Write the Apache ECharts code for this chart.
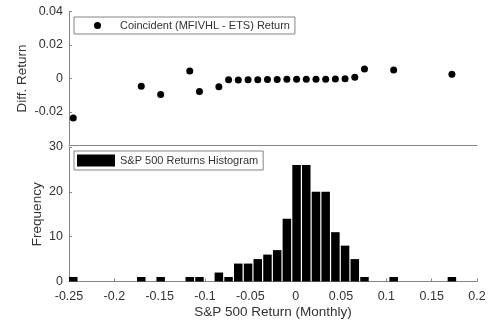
<!DOCTYPE html>
<html><head><meta charset="utf-8">
<script src="https://cdn.jsdelivr.net/npm/echarts@6/dist/echarts.min.js"></script>
<style>html,body{margin:0;padding:0;background:#fff}#c{width:489px;height:323px}</style>
</head><body><div id="c"></div>
<script>
// Histogram bin centers (S&P 500 monthly return) for non-empty bins
const binCenters = [-0.2453, -0.1703, -0.1489, -0.1168, -0.1061, -0.0847, -0.0740, -0.0633, -0.0525, -0.0418, -0.0311, -0.0204, -0.0097, 0.0010, 0.0117, 0.0224, 0.0331, 0.0438, 0.0545, 0.0652, 0.0759, 0.1081, 0.1723];
const binWidth = 0.0107;
// Histogram counts
const frequency = [1, 1, 1, 1, 1, 2, 1, 4, 4, 5, 6, 7, 14, 26, 26, 20, 20, 11, 8, 5, 1, 1, 1];
// Coincident (MFIVHL - ETS) difference return at each bin
const diffReturn = [-0.0236, -0.0046, -0.0095, 0.0045, -0.0078, -0.0049, -0.0008, -0.0009, -0.0007, -0.0007, -0.0006, -0.0006, -0.0005, -0.0005, -0.0005, -0.0005, -0.0004, -0.0003, -0.0002, 0.0007, 0.0057, 0.0051, 0.0026];
// Tick labels
const xTickLabels = ['-0.25', '-0.2', '-0.15', '-0.1', '-0.05', '0', '0.05', '0.1', '0.15', '0.2'];
const topYTickLabels = ['', '-0.02', '0', '0.02', '0.04'];
const bottomYTickLabels = ['0', '10', '20', '30'];

const FONT = '"Liberation Sans", Arial, sans-serif';
const TXT = '#333333';
const AX = '#858585';

const chart = echarts.init(document.getElementById('c'), null, {renderer: 'canvas'});
const scatterData = binCenters.map((x, i) => [x, diffReturn[i]]);
const histData = binCenters.map((x, i) => [x, frequency[i]]);

function idxLabel(arr, min, step) {
  return v => { const i = Math.round((v - min) / step); return arr[i] !== undefined ? arr[i] : ''; };
}

chart.setOption({
  animation: false,
  textStyle: {fontFamily: FONT},
  grid: [
    {left: 69, right: 12, top: 11.5, height: 134},
    {left: 69, right: 12, top: 147, height: 134.5}
  ],
  xAxis: [
    {gridIndex: 0, type: 'value', min: -0.25, max: 0.2, interval: 0.05,
     axisLine: {show: true, onZero: false, lineStyle: {color: AX, width: 1}},
     axisTick: {show: false}, axisLabel: {show: false}, splitLine: {show: false}},
    {gridIndex: 1, type: 'value', min: -0.25, max: 0.2, interval: 0.05,
     name: 'S&P 500 Return (Monthly)', nameLocation: 'middle', nameGap: 24, nameMoveOverlap: false,
     nameTextStyle: {fontSize: 13.5, color: TXT, fontFamily: FONT},
     axisLine: {show: true, onZero: false, lineStyle: {color: AX, width: 1}},
     axisTick: {show: true, inside: true, length: 3, lineStyle: {color: AX}},
     axisLabel: {fontSize: 12.5, color: TXT, margin: 9, fontFamily: FONT,
                 formatter: idxLabel(xTickLabels, -0.25, 0.05)},
     splitLine: {show: false}}
  ],
  yAxis: [
    {gridIndex: 0, type: 'value', min: -0.04, max: 0.04, interval: 0.02,
     name: 'Diff. Return', nameLocation: 'middle', nameGap: 39.5, nameMoveOverlap: false,
     nameTextStyle: {fontSize: 13.5, color: TXT, fontFamily: FONT},
     axisLine: {show: true, onZero: false, lineStyle: {color: AX, width: 1}},
     axisTick: {show: true, inside: true, length: 3, lineStyle: {color: AX}},
     axisLabel: {fontSize: 12.5, color: TXT, margin: 6, fontFamily: FONT,
                 formatter: idxLabel(topYTickLabels, -0.04, 0.02)},
     splitLine: {show: false}},
    {gridIndex: 1, type: 'value', min: 0, max: 30, interval: 10,
     name: 'Frequency', nameLocation: 'middle', nameGap: 24.5, nameMoveOverlap: false,
     nameTextStyle: {fontSize: 13.5, color: TXT, fontFamily: FONT},
     axisLine: {show: true, onZero: false, lineStyle: {color: AX, width: 1}},
     axisTick: {show: true, inside: true, length: 3, lineStyle: {color: AX}},
     axisLabel: {fontSize: 12.5, color: TXT, margin: 6, fontFamily: FONT,
                 formatter: idxLabel(bottomYTickLabels, 0, 10)},
     splitLine: {show: false}}
  ],
  legend: [
    {data: ['Coincident (MFIVHL - ETS) Return'], left: 74, top: 17, icon: 'circle',
     itemWidth: 7, itemHeight: 7, padding: [2, 5, 2, 20], borderColor: AX, borderWidth: 1,
     selectedMode: false,
     textStyle: {fontSize: 11, color: TXT, fontFamily: FONT, lineHeight: 13, padding: [0, 0, 0, 14]}},
    {data: ['S&P 500 Returns Histogram'], left: 74, top: 151, icon: 'rect',
     itemWidth: 38, itemHeight: 12, padding: [3, 5, 3, 3], borderColor: AX, borderWidth: 1,
     selectedMode: false,
     textStyle: {fontSize: 11, color: TXT, fontFamily: FONT, lineHeight: 13}}
  ],
  series: [
    {name: 'Coincident (MFIVHL - ETS) Return', type: 'scatter', xAxisIndex: 0, yAxisIndex: 0,
     symbol: 'circle', symbolSize: 7, itemStyle: {color: '#000', opacity: 1}, data: scatterData},
    {name: 'S&P 500 Returns Histogram', type: 'custom', xAxisIndex: 1, yAxisIndex: 1,
     itemStyle: {color: '#000'},
     renderItem: function (params, api) {
       const x = api.value(0), h = api.value(1);
       const p0 = api.coord([x - binWidth / 2, h]);
       const p1 = api.coord([x + binWidth / 2, 0]);
       return {type: 'rect',
               shape: {x: p0[0] + 0.6, y: p0[1], width: p1[0] - p0[0] - 1.2, height: p1[1] - p0[1]},
               style: {fill: '#000'}};
     },
     data: histData}
  ]
});
</script></body></html>
